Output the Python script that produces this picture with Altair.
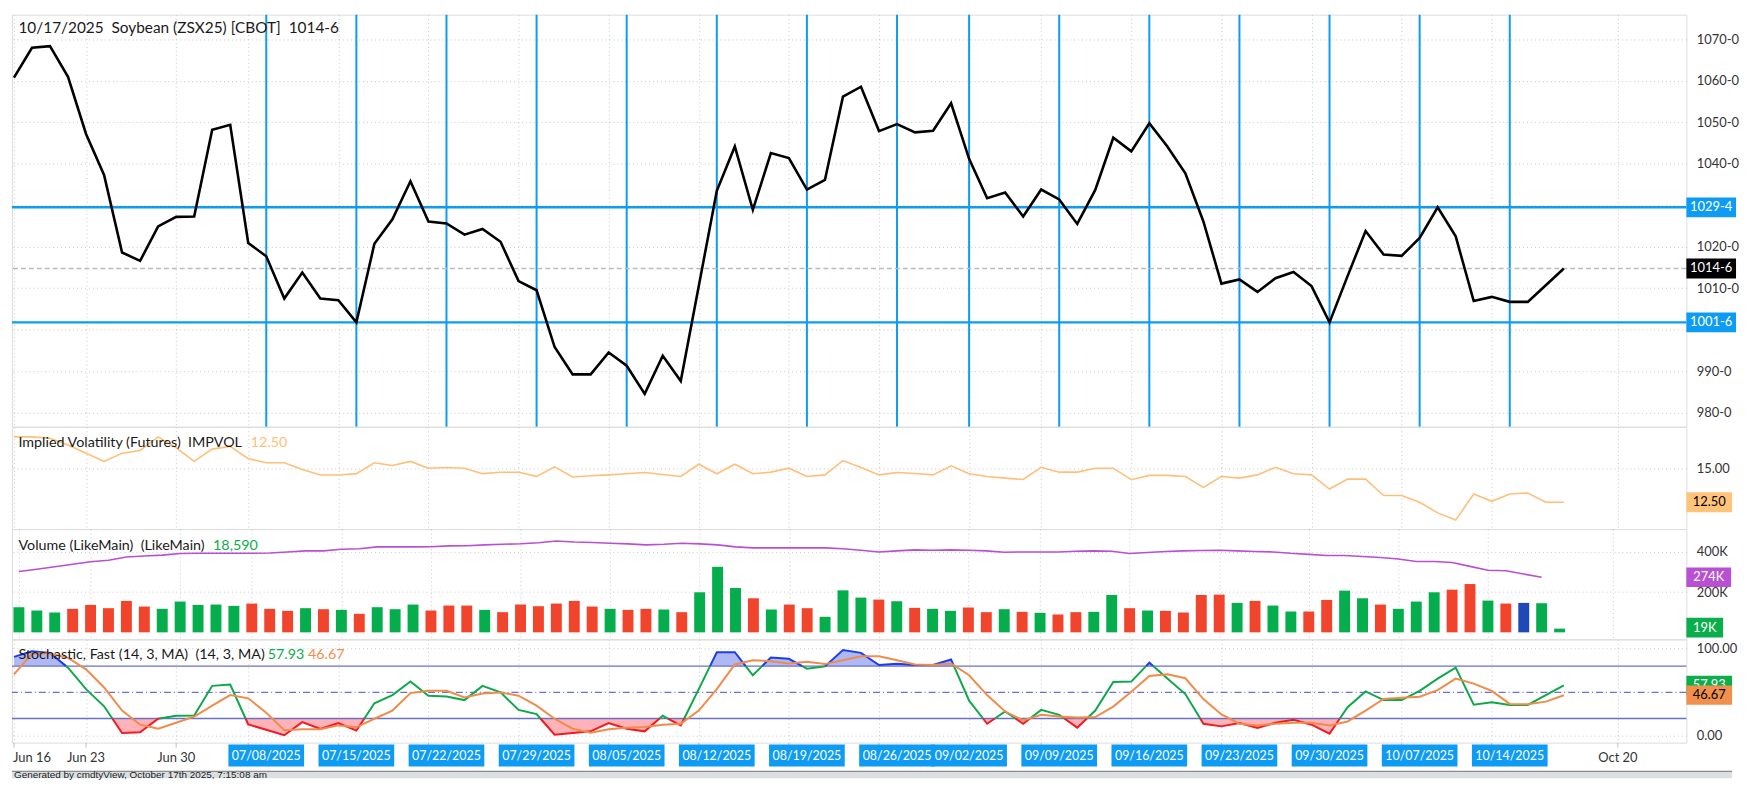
import altair as alt
import pandas as pd

# ---------------- data ----------------
holidays = ["2025-06-19", "2025-07-04", "2025-09-01"]
dates = [d.strftime("%Y-%m-%d") for d in pd.bdate_range("2025-06-16", "2025-10-17")]
dates = [d for d in dates if d not in holidays]

price = [1060.8, 1068.0, 1068.4, 1061.0, 1047.2, 1037.3, 1018.6, 1016.6, 1024.9, 1027.2,
         1027.3, 1048.2, 1049.4, 1020.9, 1017.7, 1007.5, 1013.8, 1007.5, 1007.1, 1001.75,
         1020.7, 1026.6, 1035.8, 1026.1, 1025.6, 1022.9, 1024.3, 1021.2, 1011.7, 1009.5,
         995.8, 989.2, 989.2, 994.5, 991.3, 984.5, 993.7, 987.6, 1010.5, 1033.5,
         1044.2, 1028.9, 1042.6, 1041.4, 1033.8, 1036.1, 1056.2, 1058.6, 1047.9, 1049.6,
         1047.6, 1048.0, 1054.6, 1041.2, 1031.7, 1033.1, 1027.3, 1033.8, 1031.4, 1025.5,
         1033.7, 1046.3, 1043.0, 1049.8, 1044.2, 1037.7, 1026.1, 1011.1, 1012.1, 1009.1,
         1012.4, 1013.9, 1010.5, 1001.75, 1012.9, 1023.8, 1018.1, 1017.8, 1022.1, 1029.5,
         1022.5, 1006.9, 1007.9, 1006.7, 1006.7, 1010.7, 1014.75]

impvol = [17.3, 17.3, 17.2, 16.7, 16.1, 15.5, 16.1, 16.3, 17.3, 16.5,
          15.5, 16.4, 16.6, 15.7, 15.4, 15.4, 14.9, 14.5, 14.5, 14.6,
          15.4, 15.2, 15.5, 15.0, 15.05, 15.0, 14.6, 14.7, 14.7, 14.4,
          15.1, 14.35, 14.45, 14.51, 14.59, 14.68, 14.54, 14.39, 15.29, 14.59,
          15.29, 14.59, 14.71, 15.0, 14.39, 14.51, 15.56, 15.05, 14.51, 14.68,
          14.61, 14.51, 15.17, 14.59, 14.39, 14.27, 14.17, 15.07, 14.71, 14.71,
          15.0, 15.0, 14.15, 14.47, 14.47, 14.39, 13.59, 14.39, 14.27, 14.51,
          15.07, 14.59, 14.51, 13.47, 14.2, 14.2, 12.99, 12.99, 12.5, 11.72,
          11.19, 13.11, 12.57, 13.11, 13.18, 12.5, 12.5]

volume_k = [125, 108.6, 98.8, 116.9, 136.6, 120.2, 156.4, 128.4, 116.9, 153.1,
            136.6, 138.3, 131.7, 143.2, 116.9, 107, 120.2, 115.2, 111.9, 92.2,
            125.1, 115.2, 138.3, 108.6, 133.3, 133.3, 111.9, 100.4, 138.3, 130,
            143.2, 156.4, 128.4, 116.9, 111.9, 116.9, 113.6, 100.4, 199.2, 325.9,
            220.6, 169.5, 113.6, 138.3, 120.2, 77.4, 209, 172.8, 163, 154.7,
            121.8, 116.9, 107, 123.5, 100.4, 115.2, 102.1, 97.1, 88.9, 100.4,
            102.1, 186, 120.2, 108.6, 107, 98.8, 186, 187.7, 146.5, 156.4,
            133.3, 103.7, 103.7, 161.3, 207.4, 169.5, 138.3, 116.9, 153.1, 199.2,
            212.3, 240.3, 158, 143.2, 146.5, 144.9, 18.59]

vol_dir = list("gggrrrrrgg" + "gggrrrgrgr" + "gggrrrgrrr" + "rrrgrrgrgg" + "grgrrgggrg"
               + "rggrrgrgrr" + "ggrgrrrrgr" + "ggrrggrggg" + "rrgrbgg")

vol_ma_k = [303, 314, 326, 339, 351, 359, 375, 380, 384, 392,
            393, 393, 393, 393, 395, 400, 405, 405, 413, 416,
            425, 425, 425, 426, 430, 431, 435, 438, 441, 446,
            454, 449, 447, 443, 440, 435, 438, 443, 440, 435,
            425, 420, 420, 420, 421, 420, 416, 408, 400, 405,
            410, 408, 410, 408, 405, 398, 400, 400, 400, 403,
            405, 403, 392, 397, 402, 405, 407, 408, 405, 402,
            400, 393, 388, 382, 382, 377, 372, 365, 352, 352,
            347, 328, 309, 306, 290, 274]

stoch_k = [90.6, 97.1, 95.2, 78.2, 53.6, 34.0, 3.4, 4.2, 19.7, 23.1,
           23.4, 57.4, 58.9, 13.2, 7.2, 0.8, 15.9, 8.0, 14.7, 6.1,
           37.4, 46.8, 62.3, 46.1, 45.3, 41.1, 57.4, 49.9, 29.9, 25.0,
           1.5, 3.4, 5.3, 14.8, 8.3, 5.3, 23.1, 12.1, 53.6, 95.9,
           95.9, 69.5, 89.9, 88.4, 77.1, 79.7, 98.5, 95.2, 81.2, 82.7,
           81.2, 81.2, 87.6, 40.4, 14.0, 28.0, 14.0, 29.9, 24.2, 9.5,
           29.1, 61.9, 62.3, 83.9, 65.7, 48.0, 14.0, 11.0, 14.8, 9.1,
           15.1, 18.5, 12.9, 2.7, 32.9, 51.0, 41.1, 41.1, 51.7, 65.7,
           78.2, 35.9, 38.5, 35.5, 35.5, 46.8, 57.93]

stoch_d = [70.6, 94.4, 94.4, 89.5, 76.3, 55.5, 29.1, 12.9, 8.3, 15.1,
           22.3, 34.8, 46.8, 43.1, 26.5, 6.5, 7.6, 7.6, 12.1, 9.9,
           19.7, 29.1, 49.1, 51.7, 51.7, 44.2, 48.7, 49.9, 46.1, 34.8,
           19.7, 8.3, 3.8, 7.6, 9.5, 10.2, 12.9, 14.0, 29.1, 53.6,
           81.9, 86.8, 85.6, 83.1, 84.9, 82.3, 86.8, 91.4, 91.4, 86.8,
           81.9, 81.2, 83.1, 69.5, 46.8, 28.0, 17.8, 24.2, 22.3, 21.2,
           21.6, 33.6, 50.6, 68.8, 70.6, 66.1, 42.3, 24.6, 14.0, 12.1,
           14.0, 15.1, 15.1, 12.1, 16.6, 29.1, 42.3, 43.8, 45.0, 52.5,
           65.7, 60.0, 51.7, 36.7, 36.3, 39.3, 46.67]

levels = [1029.5, 1001.75]
last_price = 1014.75
marked_days = ["2025-07-08", "2025-07-15", "2025-07-22", "2025-07-29", "2025-08-05",
               "2025-08-12", "2025-08-19", "2025-08-26", "2025-09-02", "2025-09-09",
               "2025-09-16", "2025-09-23", "2025-09-30", "2025-10-07", "2025-10-14"]
plain_labels = [("2025-06-16", "Jun 16"), ("2025-06-23", "Jun 23"), ("2025-06-30", "Jun 30")]
future_label = "Oct 20"
future_slot = 89          # slot of Oct 20 on the trading-day axis

# ---------------- layout / style ----------------
W = 1686
H1, H2, H3, H4 = 415, 103, 111, 104
BLUE = "#0d9bf3"
GREEN = "#05ad4c"
RED = "#f0452c"
FONT = "Lato"
GRID = "#c9c9c9"

N = len(dates)
idx_of = {d: i for i, d in enumerate(dates)}
xscale = alt.Scale(domain=[-0.11, 92.8], nice=False, zero=False)

week_idx = []
prev = None
for i, d in enumerate(dates):
    wk = pd.Timestamp(d).isocalendar()[1]
    if wk != prev:
        week_idx.append(i)
        prev = wk
week_idx.append(future_slot)

grid_x = alt.Axis(values=week_idx, grid=True, gridDash=[1, 3], gridColor=GRID,
                  labels=False, ticks=False, domain=False, title=None)


def X(field):
    return alt.X(f"{field}:Q", scale=xscale, axis=grid_x)


def yaxis(values, expr):
    return alt.Axis(orient="right", values=values, labelExpr=expr, grid=True,
                    gridDash=[1, 3], gridColor=GRID, domain=False, ticks=False,
                    tickSize=0, labelPadding=10, labelFontSize=13, labelColor="#333",
                    labelFont=FONT, title=None)


def boxes(rows, yscale, axis, half):
    layers = []
    for pos, label, fill, ink, w in rows:
        df = pd.DataFrame({"pos": [pos], "label": [label]})
        layers.append(
            alt.Chart(df).transform_calculate(lo=f"datum.pos-{half}", hi=f"datum.pos+{half}")
            .mark_rect(color=fill)
            .encode(y=alt.Y("lo:Q", scale=yscale, axis=axis), y2="hi:Q",
                    x=alt.value(W), x2=alt.value(W + w)))
        layers.append(
            alt.Chart(df).mark_text(color=ink, font=FONT, fontSize=13, align="center",
                                    baseline="middle")
            .encode(y=alt.Y("pos:Q", scale=yscale, axis=axis), x=alt.value(W + w / 2),
                    text="label:N"))
    return layers


def title_parts(parts, ybase, size=14.4):
    out = []
    for txt, xpos, col in parts:
        out.append(alt.Chart(pd.DataFrame({"t": [txt]}))
                   .mark_text(align="left", baseline="alphabetic", font=FONT, fontSize=size,
                              color=col)
                   .encode(x=alt.value(xpos), y=alt.value(ybase), text="t:N"))
    return out


# ---------------- price panel ----------------
yP = alt.Scale(domain=[976.56, 1075.99], nice=False, zero=False)
axP = yaxis([980, 990, 1000, 1010, 1020, 1030, 1040, 1050, 1060, 1070],
            "(datum.value==1000||datum.value==1030)?'':datum.value+'-0'")
price_df = pd.DataFrame({"idx": range(N), "price": price})
vdf = pd.DataFrame({"idx": [idx_of[d] for d in marked_days]})

p_layers = [
    alt.Chart(vdf).mark_rule(color=BLUE, strokeWidth=2).encode(x=X("idx")),
    alt.Chart(pd.DataFrame({"v": levels})).mark_rule(color=BLUE, strokeWidth=2.5)
    .encode(y=alt.Y("v:Q", scale=yP, axis=axP)),
    alt.Chart(pd.DataFrame({"v": [last_price]})).mark_rule(color="#bbbbbb", strokeWidth=1.5,
                                                           strokeDash=[5, 3])
    .encode(y=alt.Y("v:Q", scale=yP, axis=axP)),
    alt.Chart(price_df).mark_line(color="black", strokeWidth=2.6)
    .encode(x=X("idx"), y=alt.Y("price:Q", scale=yP, axis=axP)),
]
p_layers += boxes([(1029.5, "1029-4", BLUE, "white", 50),
                   (last_price, "1014-6", "black", "white", 50),
                   (1001.75, "1001-6", BLUE, "white", 50)], yP, axP, 2.4)
p_layers += title_parts([("10/17/2025\u00a0\u00a0Soybean (ZSX25) [CBOT]\u00a0\u00a01014-6", 6.5, "#1a1a1a")],
                        18.5, size=15.5)
price_panel = alt.layer(*p_layers).properties(width=W, height=H1)

# ---------------- implied volatility panel ----------------
yI = alt.Scale(domain=[10.53, 18.04], nice=False, zero=False)
axI = yaxis([15], "format(datum.value,'.2f')")
iv_df = pd.DataFrame({"idx": range(N), "iv": impvol})
i_layers = [
    alt.Chart(iv_df).mark_line(color="#ffbf78", strokeWidth=1.6)
    .encode(x=X("idx"), y=alt.Y("iv:Q", scale=yI, axis=axI)),
]
i_layers += boxes([(12.5, "12.50", "#ffc479", "black", 46)], yI, axI, 0.73)
i_layers += title_parts([("Implied Volatility (Futures)\u00a0\u00a0IMPVOL", 6.5, "#1a1a1a"),
                         ("12.50", 240.5, "#ffbf78")], 20)
iv_panel = alt.layer(*i_layers).properties(width=W, height=H2)

# ---------------- volume panel ----------------
yV = alt.Scale(domain=[-34.6, 513.6], nice=False, zero=False)
axV = yaxis([200, 400], "datum.value+'K'")
vol_df = pd.DataFrame({"idx": range(N), "vol": volume_k, "dir": vol_dir})
ma_df = pd.DataFrame({"idx": range(len(vol_ma_k)), "ma": vol_ma_k})
v_layers = [
    alt.Chart(vol_df).mark_bar(size=11, orient="vertical")
    .encode(x=X("idx"), y=alt.Y("vol:Q", scale=yV, axis=axV),
            color=alt.Color("dir:N", scale=alt.Scale(domain=["g", "r", "b"],
                                                     range=[GREEN, RED, "#1f48b8"]),
                            legend=None)),
    alt.Chart(ma_df).mark_line(color="#b94fd3", strokeWidth=1.6)
    .encode(x=X("idx"), y=alt.Y("ma:Q", scale=yV, axis=axV)),
]
v_layers += boxes([(274, "274K", "#b94fd3", "white", 45),
                   (24, "19K", "#0aae4b", "white", 37)], yV, axV, 49)
v_layers += title_parts([("Volume (LikeMain)\u00a0\u00a0(LikeMain)", 6.5, "#1a1a1a"),
                         ("18,590", 202.5, "#0aae4b")], 21)
vol_panel = alt.layer(*v_layers).properties(width=W, height=H3)

# ---------------- stochastic panel ----------------
yS = alt.Scale(domain=[-7.6, 110.7], nice=False, zero=False)
axS = yaxis([0, 100], "format(datum.value,'.2f')")
HI, LO = 80, 20


def zone(v):
    return "hi" if v > HI else ("lo" if v < LO else "mid")


dense = []
for i in range(N - 1):
    x0, y0, x1, y1 = i, stoch_k[i], i + 1, stoch_k[i + 1]
    dense.append((x0, y0))
    cr = []
    for t in (HI, LO):
        if (y0 - t) * (y1 - t) < 0:
            f = (t - y0) / (y1 - y0)
            cr.append((x0 + f * (x1 - x0), t))
    dense.extend(sorted(cr))
dense.append((N - 1, stoch_k[-1]))

seg_rows = []
seg, cur, o = 0, None, 0
for j in range(len(dense) - 1):
    (xa, ya), (xb, yb) = dense[j], dense[j + 1]
    z = zone((ya + yb) / 2)
    if z != cur:
        seg += 1
        cur = z
        seg_rows.append({"x": xa, "y": ya, "seg": seg, "zone": z, "o": o})
        o += 1
    seg_rows.append({"x": xb, "y": yb, "seg": seg, "zone": z, "o": o})
    o += 1
seg_df = pd.DataFrame(seg_rows)
dense_df = pd.DataFrame({"x": [p[0] for p in dense], "y": [p[1] for p in dense]})
dense_df["yhi"] = dense_df["y"].clip(lower=HI)
dense_df["ylo"] = dense_df["y"].clip(upper=LO)
dense_df["bhi"] = HI
dense_df["blo"] = LO
d_df = pd.DataFrame({"idx": range(N), "d": stoch_d})

s_layers = [
    alt.Chart(dense_df).mark_area(color="#aeb8f3", opacity=1)
    .encode(x=X("x"), y=alt.Y("yhi:Q", scale=yS, axis=axS), y2="bhi:Q"),
    alt.Chart(dense_df).mark_area(color="#ffb2b7", opacity=1)
    .encode(x=X("x"), y=alt.Y("ylo:Q", scale=yS, axis=axS), y2="blo:Q"),
    alt.Chart(pd.DataFrame({"v": [HI, LO]})).mark_rule(color="#6a70c8", strokeWidth=1.3)
    .encode(y=alt.Y("v:Q", scale=yS, axis=axS)),
    alt.Chart(pd.DataFrame({"v": [50]})).mark_rule(color="#6a70d8", strokeWidth=1.2,
                                                   strokeDash=[7, 3, 1, 3])
    .encode(y=alt.Y("v:Q", scale=yS, axis=axS)),
    alt.Chart(seg_df).mark_line(strokeWidth=2)
    .encode(x=X("x"), y=alt.Y("y:Q", scale=yS, axis=axS), detail="seg:N", order="o:Q",
            color=alt.Color("zone:N", scale=alt.Scale(domain=["hi", "mid", "lo"],
                                                      range=["#1a3cf2", "#0ea84a", "#f41820"]),
                            legend=None)),
    alt.Chart(d_df).mark_line(color="#f08c4a", strokeWidth=2)
    .encode(x=X("idx"), y=alt.Y("d:Q", scale=yS, axis=axS)),
]
s_layers += boxes([(57.93, "57.93", "#0aae4b", "white", 46),
                   (46.67, "46.67", "#f0904c", "black", 46)], yS, axS, 11.0)
s_layers += title_parts([("Stochastic, Fast (14, 3, MA)\u00a0\u00a0(14, 3, MA)", 6.5, "#1a1a1a"),
                         ("57.93", 257.5, "#0aae4b"), ("46.67", 298.0, "#f0904c")], 19.7)

# date axis drawn under the last panel
tick_df = pd.DataFrame({"idx": week_idx})
plain_df = pd.DataFrame({"idx": [idx_of[d] for d, _ in plain_labels] + [future_slot],
                         "t": [t for _, t in plain_labels] + [future_label]})
mark_df = pd.DataFrame({"idx": [idx_of[d] for d in marked_days],
                        "t": [pd.Timestamp(d).strftime("%m/%d/%Y") for d in marked_days]})
s_layers += [
    alt.Chart(tick_df).mark_rule(color="#bdbdbd")
    .encode(x=X("idx"), y=alt.value(H4), y2=alt.value(H4 + 5)),
    alt.Chart(plain_df.iloc[:1]).mark_text(align="left", baseline="middle", font=FONT,
                                            fontSize=13, color="#333", dx=-1)
    .encode(x=X("idx"), y=alt.value(H4 + 16), text="t:N"),
    alt.Chart(plain_df.iloc[1:]).mark_text(align="center", baseline="middle", font=FONT,
                                            fontSize=13, color="#333")
    .encode(x=X("idx"), y=alt.value(H4 + 16), text="t:N"),
    alt.Chart(mark_df).transform_calculate(lo="datum.idx-2.1", hi="datum.idx+2.1")
    .mark_rect(color=BLUE)
    .encode(x=X("lo"), x2="hi:Q", y=alt.value(H4 + 2), y2=alt.value(H4 + 24)),
    alt.Chart(mark_df).mark_text(align="center", baseline="middle", font=FONT,
                                 fontSize=12.5, color="white")
    .encode(x=X("idx"), y=alt.value(H4 + 13.5), text="t:N"),
    alt.Chart(pd.DataFrame({"a": [0]})).mark_rect(color="#dcdfe2")
    .encode(x=alt.value(0), x2=alt.value(W + 46), y=alt.value(H4 + 29), y2=alt.value(H4 + 36)),
    alt.Chart(pd.DataFrame({"a": [0]})).mark_rule(color="#8c8c8c", strokeWidth=1.2)
    .encode(x=alt.value(0), x2=alt.value(W + 46), y=alt.value(H4 + 29)),
    alt.Chart(pd.DataFrame({"t": ["Generated by cmdtyView, October 17th 2025, 7:15:08 am"]}))
    .mark_text(align="left", baseline="middle", font="Liberation Sans", fontSize=10,
               color="#222")
    .encode(x=alt.value(2), y=alt.value(H4 + 33), text="t:N"),
]
stoch_panel = alt.layer(*s_layers).properties(width=W, height=H4)

chart = (
    alt.vconcat(price_panel, iv_panel, vol_panel, stoch_panel, spacing=0, bounds="flush")
    .resolve_scale(color="independent")
    .properties(padding={"left": 0, "top": 2, "right": 0, "bottom": 0})
    .configure_view(stroke="#bdbdbd", strokeWidth=1.5)
    .configure(font=FONT)
)

chart.save("out.html", embed_options={"renderer": "svg", "actions": False})
